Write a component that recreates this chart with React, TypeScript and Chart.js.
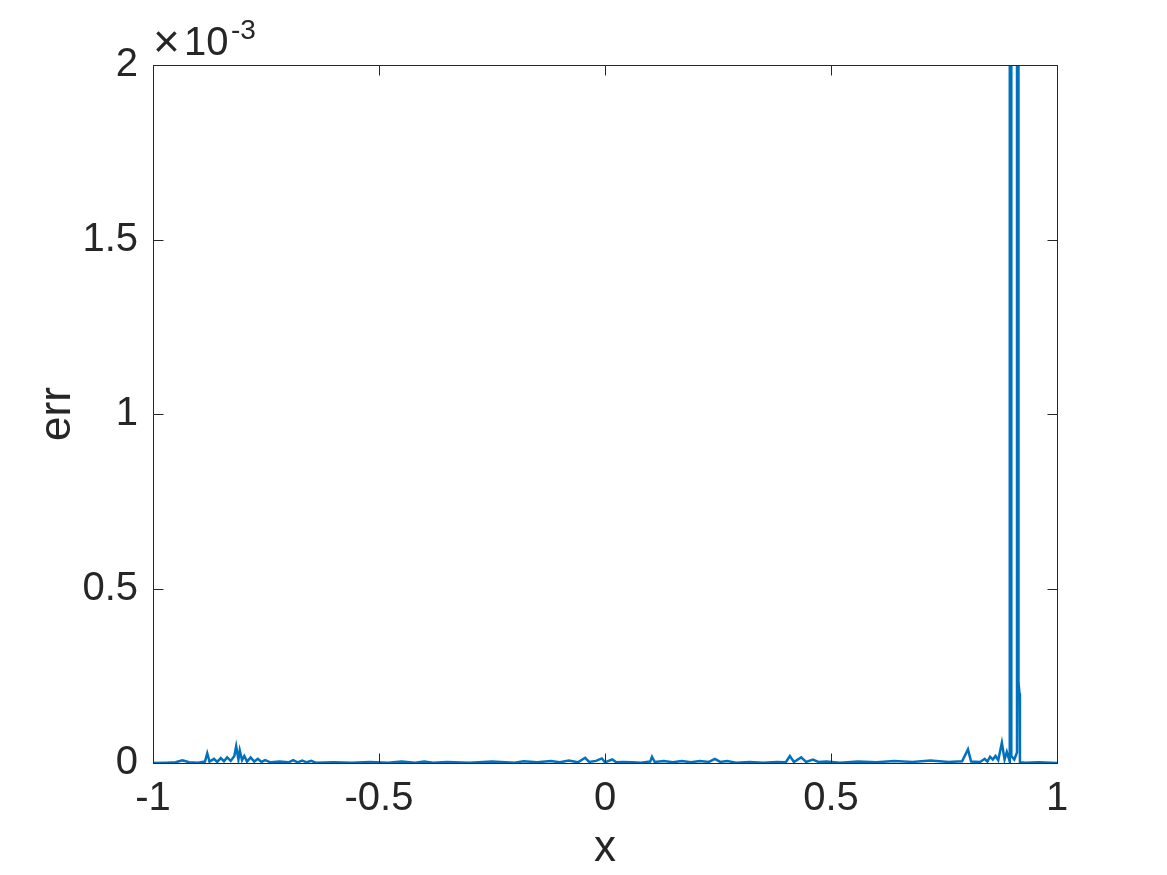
import React, { useEffect, useRef } from "react";
import { Chart, registerables } from "chart.js";

Chart.register(...registerables);

// x positions of the error samples
const xValues: number[] = [
  -1.0, -0.97, -0.95, -0.935, -0.92, -0.9, -0.885, -0.88, -0.875, -0.865,
  -0.858, -0.85, -0.843, -0.836, -0.828, -0.82, -0.816, -0.811, -0.808, -0.803,
  -0.798, -0.792, -0.784, -0.776, -0.768, -0.76, -0.752, -0.74, -0.72, -0.7,
  -0.69, -0.68, -0.67, -0.66, -0.65, -0.64, -0.6, -0.56, -0.52, -0.48,
  -0.45, -0.42, -0.4, -0.38, -0.35, -0.3, -0.25, -0.2, -0.18, -0.15,
  -0.12, -0.1, -0.08, -0.06, -0.044, -0.035, -0.02, -0.007, 0.0, 0.016,
  0.025, 0.04, 0.06, 0.08, 0.1, 0.104, 0.11, 0.13, 0.15, 0.17,
  0.19, 0.21, 0.23, 0.243, 0.255, 0.27, 0.29, 0.32, 0.35, 0.38,
  0.4, 0.409, 0.418, 0.434, 0.445, 0.46, 0.472, 0.49, 0.52, 0.56,
  0.6, 0.64, 0.68, 0.72, 0.76, 0.79, 0.803, 0.81, 0.83, 0.84,
  0.846, 0.852, 0.858, 0.864, 0.87, 0.878, 0.884, 0.889, 0.8955, 0.8972,
  0.899, 0.9055, 0.9115, 0.913, 0.9148, 0.917, 0.918, 0.93, 0.96, 1.0,
];

// err values in units of 1e-3
const errE3: number[] = [
  0.0, 0.001, 0.002, 0.008, 0.002, 0.001, 0.004, 0.028, 0.004, 0.012,
  0.003, 0.014, 0.005, 0.016, 0.006, 0.02, 0.048, 0.01, 0.036, 0.008,
  0.02, 0.004, 0.016, 0.004, 0.012, 0.003, 0.008, 0.002, 0.004, 0.002,
  0.008, 0.002, 0.007, 0.002, 0.006, 0.001, 0.002, 0.001, 0.003, 0.001,
  0.004, 0.001, 0.004, 0.001, 0.003, 0.001, 0.004, 0.001, 0.005, 0.002,
  0.006, 0.002, 0.007, 0.002, 0.015, 0.003, 0.006, 0.013, 0.002, 0.01,
  0.002, 0.003, 0.002, 0.001, 0.004, 0.018, 0.003, 0.006, 0.002, 0.006,
  0.002, 0.006, 0.003, 0.012, 0.003, 0.006, 0.001, 0.003, 0.001, 0.003,
  0.002, 0.02, 0.003, 0.016, 0.003, 0.01, 0.003, 0.004, 0.001, 0.004,
  0.002, 0.006, 0.003, 0.007, 0.003, 0.005, 0.039, 0.004, 0.003, 0.012,
  0.004, 0.018, 0.01, 0.02, 0.008, 0.058, 0.01, 0.032, 0.004, 60.0,
  0.02, 0.01, 0.03, 60.0, 0.23, 0.2, 0.002, 0.001, 0.002, 0.0,
];

const xTicks: number[] = [-1, -0.5, 0, 0.5, 1];
const yTicks: number[] = [0, 0.5, 1, 1.5, 2];
const xTickLabels: string[] = ["-1", "-0.5", "0", "0.5", "1"];
const yTickLabels: string[] = ["0", "0.5", "1", "1.5", "2"];

const FONT = "'Liberation Sans', Arial, Helvetica, sans-serif";
const INK = "#262626";
const LINE = "#0072BD";

const matlabAxes = {
  id: "matlabAxes",
  afterDraw(chart: any) {
    const { ctx, chartArea } = chart;
    const xs = chart.scales.x;
    const ys = chart.scales.y;
    const L = Math.round(chartArea.left) + 0.5;
    const R = Math.round(chartArea.right) + 0.5;
    const T = Math.round(chartArea.top) + 0.5;
    const B = Math.round(chartArea.bottom) + 0.5;
    ctx.save();
    ctx.strokeStyle = INK;
    ctx.lineWidth = 1;
    ctx.beginPath();
    ctx.rect(L, T, R - L, B - T);
    const tl = 10;
    xTicks.forEach((v) => {
      const p = Math.round(xs.getPixelForValue(v)) + 0.5;
      ctx.moveTo(p, B);
      ctx.lineTo(p, B - tl);
      ctx.moveTo(p, T);
      ctx.lineTo(p, T + tl);
    });
    yTicks.forEach((v) => {
      const p = Math.round(ys.getPixelForValue(v)) + 0.5;
      ctx.moveTo(L, p);
      ctx.lineTo(L + tl, p);
      ctx.moveTo(R, p);
      ctx.lineTo(R - tl, p);
    });
    ctx.stroke();
    // exponent label
    ctx.fillStyle = INK;
    ctx.textBaseline = "alphabetic";
    ctx.textAlign = "left";
    ctx.font = `300 46px ${FONT}`;
    ctx.fillText("\u00d7", 153, 57);
    ctx.font = `40px ${FONT}`;
    ctx.fillText("10", 184, 55);
    ctx.font = `28px ${FONT}`;
    ctx.fillText("-3", 231, 39);
    ctx.restore();
  },
};

export default function App() {
  const ref = useRef<HTMLCanvasElement | null>(null);
  useEffect(() => {
    if (!ref.current) return;
    const points = xValues.map((x, i) => ({ x, y: errE3[i] }));
    const chart = new Chart(ref.current, {
      type: "line",
      data: {
        datasets: [
          {
            label: "err",
            data: points,
            borderColor: LINE,
            backgroundColor: LINE,
            borderWidth: 2.5,
            pointRadius: 0,
            tension: 0,
            fill: false,
            clip: 0,
          } as any,
        ],
      },
      options: {
        responsive: false,
        animation: false,
        devicePixelRatio: 1,
        layout: { padding: { left: 0, right: 110, top: 65, bottom: 0 } },
        plugins: { legend: { display: false }, tooltip: { enabled: false } },
        scales: {
          x: {
            type: "linear",
            min: -1,
            max: 1,
            afterFit: (s: any) => {
              s.height = 112;
            },
            afterBuildTicks: (s: any) => {
              s.ticks = xTicks.map((v) => ({ value: v }));
            },
            grid: { display: false, drawTicks: false },
            border: { display: false },
            ticks: {
              padding: 12,
              color: INK,
              font: { size: 40, family: FONT },
              maxRotation: 0,
              callback: (v: any) => {
                const i = xTicks.indexOf(Number(v));
                return i >= 0 ? xTickLabels[i] : "";
              },
            },
            title: {
              display: true,
              text: "x",
              color: INK,
              font: { size: 44, family: FONT },
              padding: { top: 0, bottom: 0 },
            },
          },
          y: {
            type: "linear",
            min: 0,
            max: 2,
            afterFit: (s: any) => {
              s.width = 153;
            },
            afterBuildTicks: (s: any) => {
              s.ticks = yTicks.map((v) => ({ value: v }));
            },
            grid: { display: false, drawTicks: false },
            border: { display: false },
            ticks: {
              padding: 15,
              color: INK,
              font: { size: 40, family: FONT },
              callback: (v: any) => {
                const i = yTicks.indexOf(Number(v));
                return i >= 0 ? yTickLabels[i] : "";
              },
            },
            title: {
              display: true,
              text: "err",
              color: INK,
              font: { size: 44, family: FONT },
              padding: { top: 31, bottom: 0 },
            },
          },
        },
      },
      plugins: [matlabAxes],
    });
    return () => chart.destroy();
  }, []);
  return (
    <div style={{ position: "absolute", left: 0, top: 0, width: 1167, height: 875, background: "#fff" }}>
      <canvas ref={ref} width={1167} height={875} style={{ width: 1167, height: 875, display: "block" }} />
    </div>
  );
}
